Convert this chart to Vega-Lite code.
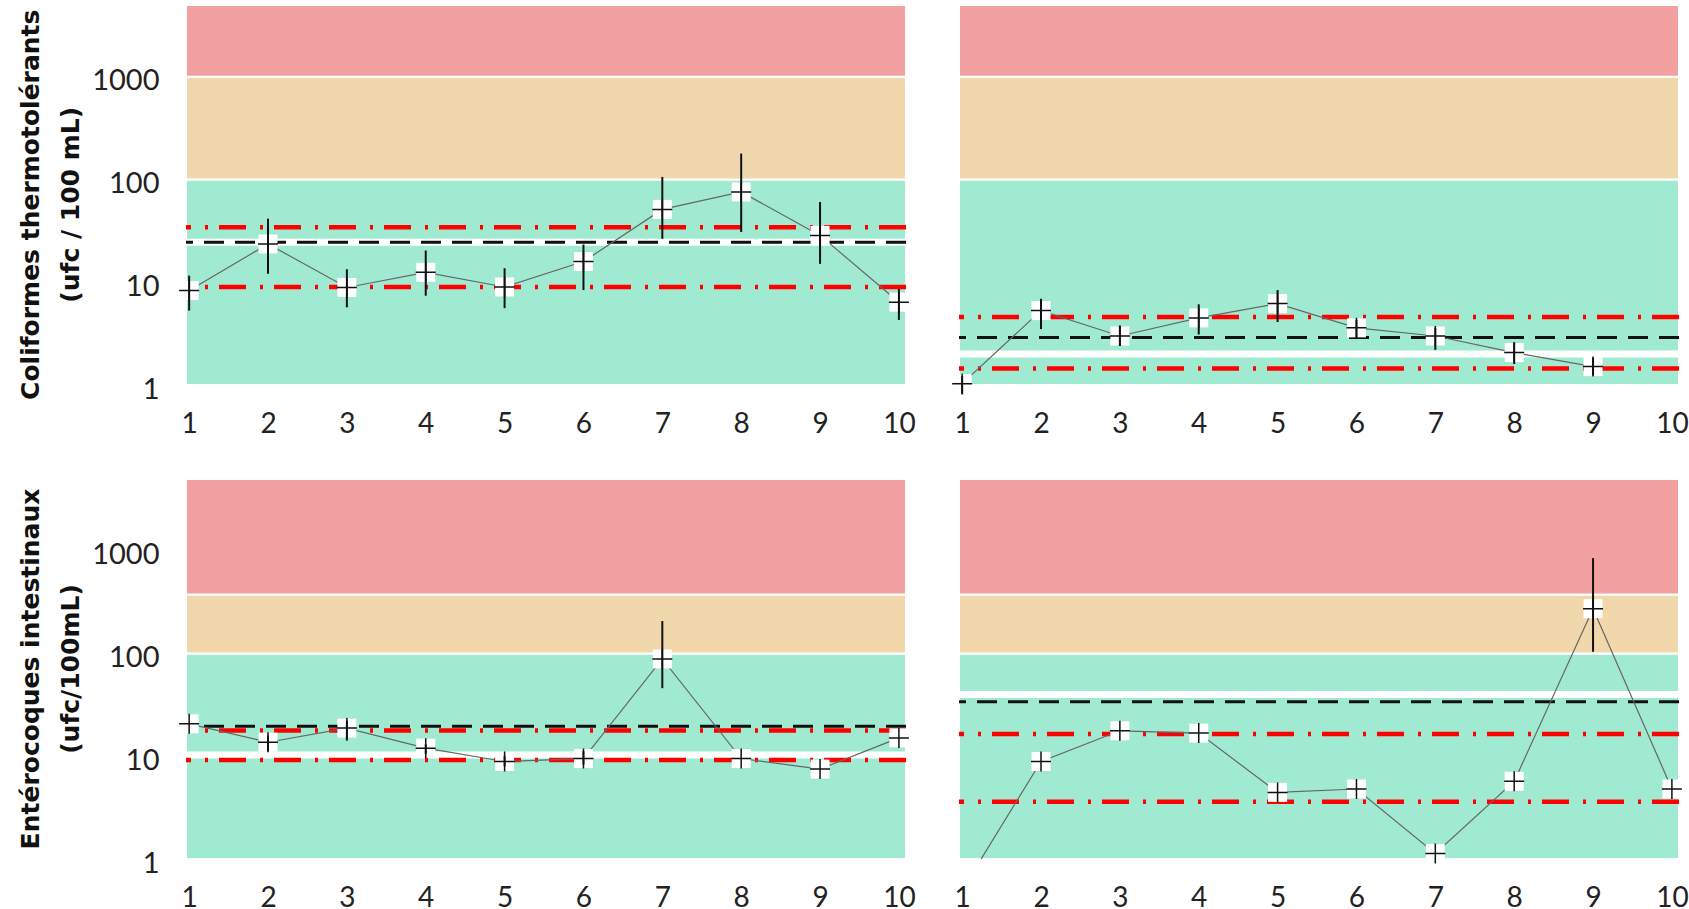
{
  "$schema": "https://vega.github.io/schema/vega-lite/v6.json",
  "background": "white",
  "padding": {"left": 18, "top": -10, "right": 0, "bottom": 0},
  "config": {"view": {"stroke": null}, "font": "Lato"},
  "data": {"values": [
    {"param": "Coliformes thermotolérants\u2800|(ufc / 100 mL)\u2800", "site": "A", "kind": "band", "band": "vert", "v": 1, "v2": 100},
    {"param": "Coliformes thermotolérants\u2800|(ufc / 100 mL)\u2800", "site": "A", "kind": "band", "band": "orange", "v": 100, "v2": 1000},
    {"param": "Coliformes thermotolérants\u2800|(ufc / 100 mL)\u2800", "site": "A", "kind": "band", "band": "rouge", "v": 1000, "v2": 5000},
    {"param": "Coliformes thermotolérants\u2800|(ufc / 100 mL)\u2800", "site": "B", "kind": "band", "band": "vert", "v": 1, "v2": 100},
    {"param": "Coliformes thermotolérants\u2800|(ufc / 100 mL)\u2800", "site": "B", "kind": "band", "band": "orange", "v": 100, "v2": 1000},
    {"param": "Coliformes thermotolérants\u2800|(ufc / 100 mL)\u2800", "site": "B", "kind": "band", "band": "rouge", "v": 1000, "v2": 5000},
    {"param": "Entérocoques intestinaux|(ufc/100mL)", "site": "A", "kind": "band", "band": "vert", "v": 1, "v2": 100},
    {"param": "Entérocoques intestinaux|(ufc/100mL)", "site": "A", "kind": "band", "band": "orange", "v": 100, "v2": 375},
    {"param": "Entérocoques intestinaux|(ufc/100mL)", "site": "A", "kind": "band", "band": "rouge", "v": 375, "v2": 5000},
    {"param": "Entérocoques intestinaux|(ufc/100mL)", "site": "B", "kind": "band", "band": "vert", "v": 1, "v2": 100},
    {"param": "Entérocoques intestinaux|(ufc/100mL)", "site": "B", "kind": "band", "band": "orange", "v": 100, "v2": 375},
    {"param": "Entérocoques intestinaux|(ufc/100mL)", "site": "B", "kind": "band", "band": "rouge", "v": 375, "v2": 5000},

    {"param": "Coliformes thermotolérants\u2800|(ufc / 100 mL)\u2800", "site": "A", "kind": "med", "v": 24.5},
    {"param": "Coliformes thermotolérants\u2800|(ufc / 100 mL)\u2800", "site": "A", "kind": "moy", "v": 24.5},
    {"param": "Coliformes thermotolérants\u2800|(ufc / 100 mL)\u2800", "site": "A", "kind": "lim", "v": 34.4},
    {"param": "Coliformes thermotolérants\u2800|(ufc / 100 mL)\u2800", "site": "A", "kind": "lim", "v": 9.0},
    {"param": "Coliformes thermotolérants\u2800|(ufc / 100 mL)\u2800", "site": "B", "kind": "med", "v": 2.0},
    {"param": "Coliformes thermotolérants\u2800|(ufc / 100 mL)\u2800", "site": "B", "kind": "moy", "v": 2.9},
    {"param": "Coliformes thermotolérants\u2800|(ufc / 100 mL)\u2800", "site": "B", "kind": "lim", "v": 4.6},
    {"param": "Coliformes thermotolérants\u2800|(ufc / 100 mL)\u2800", "site": "B", "kind": "lim", "v": 1.45},
    {"param": "Entérocoques intestinaux|(ufc/100mL)", "site": "A", "kind": "med", "v": 10.3},
    {"param": "Entérocoques intestinaux|(ufc/100mL)", "site": "A", "kind": "moy", "v": 19.6},
    {"param": "Entérocoques intestinaux|(ufc/100mL)", "site": "A", "kind": "lim", "v": 17.8},
    {"param": "Entérocoques intestinaux|(ufc/100mL)", "site": "A", "kind": "lim", "v": 9.2},
    {"param": "Entérocoques intestinaux|(ufc/100mL)", "site": "B", "kind": "med", "v": 40},
    {"param": "Entérocoques intestinaux|(ufc/100mL)", "site": "B", "kind": "moy", "v": 34},
    {"param": "Entérocoques intestinaux|(ufc/100mL)", "site": "B", "kind": "lim", "v": 16.5},
    {"param": "Entérocoques intestinaux|(ufc/100mL)", "site": "B", "kind": "lim", "v": 3.6},

    {"param": "Coliformes thermotolérants\u2800|(ufc / 100 mL)\u2800", "site": "A", "kind": "pt", "x": 1, "v": 8.3, "lo": 5.3, "hi": 11.6},
    {"param": "Coliformes thermotolérants\u2800|(ufc / 100 mL)\u2800", "site": "A", "kind": "pt", "x": 2, "v": 23.6, "lo": 12.1, "hi": 41.6},
    {"param": "Coliformes thermotolérants\u2800|(ufc / 100 mL)\u2800", "site": "A", "kind": "pt", "x": 3, "v": 8.9, "lo": 5.7, "hi": 13.4},
    {"param": "Coliformes thermotolérants\u2800|(ufc / 100 mL)\u2800", "site": "A", "kind": "pt", "x": 4, "v": 12.5, "lo": 7.4, "hi": 20.4},
    {"param": "Coliformes thermotolérants\u2800|(ufc / 100 mL)\u2800", "site": "A", "kind": "pt", "x": 5, "v": 9.0, "lo": 5.6, "hi": 13.7},
    {"param": "Coliformes thermotolérants\u2800|(ufc / 100 mL)\u2800", "site": "A", "kind": "pt", "x": 6, "v": 15.9, "lo": 8.4, "hi": 23.3},
    {"param": "Coliformes thermotolérants\u2800|(ufc / 100 mL)\u2800", "site": "A", "kind": "pt", "x": 7, "v": 51.2, "lo": 26.5, "hi": 106},
    {"param": "Coliformes thermotolérants\u2800|(ufc / 100 mL)\u2800", "site": "A", "kind": "pt", "x": 8, "v": 75.7, "lo": 30.8, "hi": 179},
    {"param": "Coliformes thermotolérants\u2800|(ufc / 100 mL)\u2800", "site": "A", "kind": "pt", "x": 9, "v": 28.6, "lo": 15.1, "hi": 60.5},
    {"param": "Coliformes thermotolérants\u2800|(ufc / 100 mL)\u2800", "site": "A", "kind": "pt", "x": 10, "v": 6.4, "lo": 4.3, "hi": 8.6},

    {"param": "Coliformes thermotolérants\u2800|(ufc / 100 mL)\u2800", "site": "B", "kind": "pt", "x": 1, "v": 1.03, "lo": 0.81, "hi": 1.22},
    {"param": "Coliformes thermotolérants\u2800|(ufc / 100 mL)\u2800", "site": "B", "kind": "pt", "x": 2, "v": 5.3, "lo": 3.5, "hi": 6.9},
    {"param": "Coliformes thermotolérants\u2800|(ufc / 100 mL)\u2800", "site": "B", "kind": "pt", "x": 3, "v": 3.0, "lo": 2.4, "hi": 3.8},
    {"param": "Coliformes thermotolérants\u2800|(ufc / 100 mL)\u2800", "site": "B", "kind": "pt", "x": 4, "v": 4.5, "lo": 3.1, "hi": 6.1},
    {"param": "Coliformes thermotolérants\u2800|(ufc / 100 mL)\u2800", "site": "B", "kind": "pt", "x": 5, "v": 6.2, "lo": 4.1, "hi": 8.4},
    {"param": "Coliformes thermotolérants\u2800|(ufc / 100 mL)\u2800", "site": "B", "kind": "pt", "x": 6, "v": 3.6, "lo": 2.8, "hi": 4.3},
    {"param": "Coliformes thermotolérants\u2800|(ufc / 100 mL)\u2800", "site": "B", "kind": "pt", "x": 7, "v": 3.0, "lo": 2.2, "hi": 3.6},
    {"param": "Coliformes thermotolérants\u2800|(ufc / 100 mL)\u2800", "site": "B", "kind": "pt", "x": 8, "v": 2.07, "lo": 1.6, "hi": 2.6},
    {"param": "Coliformes thermotolérants\u2800|(ufc / 100 mL)\u2800", "site": "B", "kind": "pt", "x": 9, "v": 1.51, "lo": 1.24, "hi": 1.83},

    {"param": "Entérocoques intestinaux|(ufc/100mL)", "site": "A", "kind": "pt", "x": 1, "v": 20.7},
    {"param": "Entérocoques intestinaux|(ufc/100mL)", "site": "A", "kind": "pt", "x": 2, "v": 13.7, "lo": 11.2, "hi": 15.9},
    {"param": "Entérocoques intestinaux|(ufc/100mL)", "site": "A", "kind": "pt", "x": 3, "v": 18.8, "lo": 14.2, "hi": 22.2},
    {"param": "Entérocoques intestinaux|(ufc/100mL)", "site": "A", "kind": "pt", "x": 4, "v": 12.0, "lo": 10.5, "hi": 13.1},
    {"param": "Entérocoques intestinaux|(ufc/100mL)", "site": "A", "kind": "pt", "x": 5, "v": 8.9, "lo": 8.0, "hi": 10.0},
    {"param": "Entérocoques intestinaux|(ufc/100mL)", "site": "A", "kind": "pt", "x": 6, "v": 9.5, "lo": 8.3, "hi": 11.2},
    {"param": "Entérocoques intestinaux|(ufc/100mL)", "site": "A", "kind": "pt", "x": 7, "v": 88.6, "lo": 46, "hi": 207},
    {"param": "Entérocoques intestinaux|(ufc/100mL)", "site": "A", "kind": "pt", "x": 8, "v": 9.5},
    {"param": "Entérocoques intestinaux|(ufc/100mL)", "site": "A", "kind": "pt", "x": 9, "v": 7.5},
    {"param": "Entérocoques intestinaux|(ufc/100mL)", "site": "A", "kind": "pt", "x": 10, "v": 15.1},

    {"param": "Entérocoques intestinaux|(ufc/100mL)", "site": "B", "kind": "pt", "x": 1, "v": 0.5},
    {"param": "Entérocoques intestinaux|(ufc/100mL)", "site": "B", "kind": "pt", "x": 2, "v": 8.9},
    {"param": "Entérocoques intestinaux|(ufc/100mL)", "site": "B", "kind": "pt", "x": 3, "v": 17.7},
    {"param": "Entérocoques intestinaux|(ufc/100mL)", "site": "B", "kind": "pt", "x": 4, "v": 16.8},
    {"param": "Entérocoques intestinaux|(ufc/100mL)", "site": "B", "kind": "pt", "x": 5, "v": 4.45},
    {"param": "Entérocoques intestinaux|(ufc/100mL)", "site": "B", "kind": "pt", "x": 6, "v": 4.8},
    {"param": "Entérocoques intestinaux|(ufc/100mL)", "site": "B", "kind": "pt", "x": 7, "v": 1.13},
    {"param": "Entérocoques intestinaux|(ufc/100mL)", "site": "B", "kind": "pt", "x": 8, "v": 5.7},
    {"param": "Entérocoques intestinaux|(ufc/100mL)", "site": "B", "kind": "pt", "x": 9, "v": 273, "lo": 104, "hi": 849},
    {"param": "Entérocoques intestinaux|(ufc/100mL)", "site": "B", "kind": "pt", "x": 10, "v": 4.8}
  ]},
  "facet": {
    "row": {"field": "param", "type": "nominal", "title": null,
      "header": {"labelAngle": -90, "labelOrient": "left", "labelFont": "DejaVu Sans", "labelFontWeight": "bold", "labelFontSize": 25, "labelLineHeight": 40, "labelColor": "#111111", "labelPadding": -4, "labelExpr": "split(datum.value, '|')"}},
    "column": {"field": "site", "type": "nominal", "title": null, "header": {"labels": false, "title": null}}
  },
  "spacing": {"row": 94, "column": 53},
  "bounds": "flush",
  "resolve": {"axis": {"x": "independent"}},
  "spec": {
    "width": 720,
    "height": 380,
    "layer": [
      {
        "transform": [{"filter": "datum.kind == 'band'"}],
        "mark": {"type": "rect", "stroke": "white", "strokeWidth": 2},
        "encoding": {
          "x": {"value": 0},
          "x2": {"value": "width"},
          "y": {"field": "v", "type": "quantitative", "title": null, "scale": {"type": "log", "domain": [1, 5000], "nice": false},
            "axis": {"title": null, "values": [1, 10, 100, 1000], "format": "d", "labelFont": "Lato", "labelFontSize": 29, "labelColor": "#222222", "labelPadding": 27, "labelOffset": 4, "ticks": false, "domain": false, "grid": false, "labelOverlap": false, "labelBound": false, "labelFlush": false}},
          "y2": {"field": "v2"},
          "color": {"field": "band", "type": "nominal", "legend": null, "scale": {"domain": ["vert", "orange", "rouge"], "range": ["#A0EAD2", "#F0D8AC", "#F3A0A0"]}}
        }
      },
      {
        "transform": [{"filter": "datum.kind == 'med'"}],
        "mark": {"type": "rule", "color": "white", "strokeWidth": 7},
        "encoding": {"y": {"field": "v", "type": "quantitative", "title": null, "scale": {"type": "log", "domain": [1, 5000], "nice": false}}}
      },
      {
        "transform": [{"filter": "datum.kind == 'lim'"}],
        "mark": {"type": "rule", "color": "#FF0000", "strokeWidth": 4.5, "strokeDash": [27, 11, 3, 14]},
        "encoding": {"y": {"field": "v", "type": "quantitative", "title": null, "scale": {"type": "log", "domain": [1, 5000], "nice": false}}}
      },
      {
        "transform": [{"filter": "datum.kind == 'moy'"}],
        "mark": {"type": "rule", "color": "#111111", "strokeWidth": 3, "strokeDash": [20, 11]},
        "encoding": {"y": {"field": "v", "type": "quantitative", "title": null, "scale": {"type": "log", "domain": [1, 5000], "nice": false}}}
      },
      {
        "transform": [{"filter": "datum.kind == 'pt'"}],
        "mark": {"type": "line", "color": "#666666", "strokeWidth": 1.2, "clip": true},
        "encoding": {
          "x": {"field": "x", "type": "quantitative", "title": null, "scale": {"domain": [0.96, 10.09], "nice": false, "zero": false},
            "axis": {"title": null, "values": [1, 2, 3, 4, 5, 6, 7, 8, 9, 10], "format": "d", "labelFont": "Lato", "labelFontSize": 28, "labelColor": "#222222", "labelPadding": 25, "ticks": false, "domain": false, "grid": false, "labelOverlap": false, "labelFlush": false, "labelBound": false}},
          "y": {"field": "v", "type": "quantitative", "title": null, "scale": {"type": "log", "domain": [1, 5000], "nice": false}}
        }
      },
      {
        "transform": [{"filter": "datum.kind == 'pt' && datum.v >= 1"}],
        "mark": {"type": "point", "shape": "square", "filled": true, "color": "white", "size": 361, "opacity": 1},
        "encoding": {
          "x": {"field": "x", "type": "quantitative", "title": null, "scale": {"domain": [0.96, 10.09], "nice": false, "zero": false}},
          "y": {"field": "v", "type": "quantitative", "title": null, "scale": {"type": "log", "domain": [1, 5000], "nice": false}}
        }
      },
      {
        "transform": [{"filter": "datum.kind == 'pt' && isValid(datum.lo)"}],
        "mark": {"type": "rule", "color": "#111111", "strokeWidth": 2},
        "encoding": {
          "x": {"field": "x", "type": "quantitative", "title": null, "scale": {"domain": [0.96, 10.09], "nice": false, "zero": false}},
          "y": {"field": "lo", "type": "quantitative", "title": null, "scale": {"type": "log", "domain": [1, 5000], "nice": false}},
          "y2": {"field": "hi"}
        }
      },
      {
        "transform": [{"filter": "datum.kind == 'pt' && datum.v >= 1"}],
        "mark": {"type": "point", "shape": "M-1,0L1,0M0,-1L0,1", "filled": false, "color": "#111111", "strokeWidth": 1.5, "size": 400, "opacity": 1},
        "encoding": {
          "x": {"field": "x", "type": "quantitative", "title": null, "scale": {"domain": [0.96, 10.09], "nice": false, "zero": false}},
          "y": {"field": "v", "type": "quantitative", "title": null, "scale": {"type": "log", "domain": [1, 5000], "nice": false}}
        }
      }
    ]
  }
}
